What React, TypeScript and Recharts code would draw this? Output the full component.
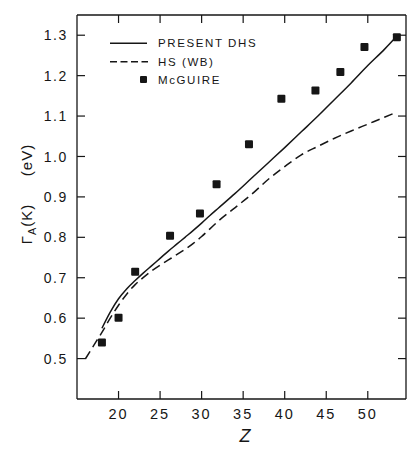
import React from "react";
import {
  ComposedChart,
  Line,
  Scatter,
  XAxis,
  YAxis,
  Legend,
} from "recharts";

// Z values and widths
const dhsZ = [18, 19, 20, 21, 22, 23, 24, 25, 26, 27, 28, 29, 30, 31, 32, 34, 36, 38, 40, 42, 44, 46, 48, 50, 52, 53.5];
const dhsWidth = [0.575, 0.615, 0.648, 0.673, 0.693, 0.712, 0.73, 0.748, 0.766, 0.783, 0.8, 0.817, 0.835, 0.854, 0.872, 0.908, 0.946, 0.984, 1.022, 1.061, 1.1, 1.141, 1.182, 1.225, 1.265, 1.298];

const hsZ = [16, 17, 18, 19, 20, 21, 22, 23, 24, 25, 26, 27, 28, 29, 30, 31, 32, 34, 36, 38, 40, 42, 44, 46, 48, 50, 52, 53.5];
const hsWidth = [0.499, 0.532, 0.565, 0.6, 0.632, 0.66, 0.683, 0.701, 0.717, 0.731, 0.744, 0.757, 0.77, 0.785, 0.802, 0.821, 0.84, 0.873, 0.906, 0.943, 0.975, 1.004, 1.025, 1.045, 1.063, 1.08, 1.097, 1.11];

const mcguireZ = [18, 20, 22, 26.2, 29.8, 31.8, 35.7, 39.6, 43.7, 46.7, 49.6, 53.5];
const mcguireWidth = [0.54, 0.601, 0.715, 0.804, 0.859, 0.931, 1.03, 1.143, 1.163, 1.209, 1.271, 1.295];

const zTicks = [20, 25, 30, 35, 40, 45, 50];
const widthTicks = [0.5, 0.6, 0.7, 0.8, 0.9, 1.0, 1.1, 1.2, 1.3];

const dhsData = dhsZ.map((z, i) => ({ z, v: dhsWidth[i] }));
const hsData = hsZ.map((z, i) => ({ z, v: hsWidth[i] }));
const mcguireData = mcguireZ.map((z, i) => ({ z, v: mcguireWidth[i] }));

const INK = "#161616";
const FONT = "'Liberation Sans', Arial, sans-serif";
const TICK_LEN = 8;

const LeftTick = ({ x, y, payload }: any) => (
  <g>
    <line x1={x} x2={x + TICK_LEN} y1={y} y2={y} stroke={INK} strokeWidth={1.2} />
    <text
      x={x - 9}
      y={y}
      dy="0.36em"
      textAnchor="end"
      fontFamily={FONT}
      fontSize={14}
      letterSpacing={1.6}
      fill={INK}
    >
      {Number(payload.value).toFixed(1)}
    </text>
  </g>
);

const RightTick = ({ x, y }: any) => (
  <line x1={x} x2={x - TICK_LEN} y1={y} y2={y} stroke={INK} strokeWidth={1.2} />
);

const BottomTick = ({ x, y, payload }: any) => (
  <g>
    <line x1={x} x2={x} y1={y} y2={y - TICK_LEN} stroke={INK} strokeWidth={1.2} />
    <text
      x={x}
      y={y + 15}
      dy="0.36em"
      textAnchor="middle"
      fontFamily={FONT}
      fontSize={14.5}
      letterSpacing={2}
      fill={INK}
    >
      {payload.value}
    </text>
  </g>
);

const TopTick = ({ x, y }: any) => (
  <line x1={x} x2={x} y1={y} y2={y + TICK_LEN} stroke={INK} strokeWidth={1.2} />
);

const Square = ({ cx, cy }: any) => (
  <rect x={cx - 4} y={cy - 4} width={8} height={8} rx={1} fill={INK} />
);

const YLabel = () => (
  <g fontFamily={FONT} fill={INK} fontSize={15}>
    <text x={27} y={224} textAnchor="middle" dy="0.36em" transform="rotate(-90, 27, 224)" letterSpacing={1}>
      <tspan>Γ</tspan>
      <tspan fontSize={11} dy={4}>A</tspan>
      <tspan dy={-4}>(K)</tspan>
    </text>
    <text x={27} y={160} textAnchor="middle" dy="0.36em" transform="rotate(-90, 27, 160)" letterSpacing={1}>
      (eV)
    </text>
  </g>
);

const XLabel = () => (
  <text
    x={245}
    y={436}
    dy="0.36em"
    textAnchor="middle"
    fontFamily={FONT}
    fontStyle="italic"
    fontSize={18}
    fill={INK}
  >
    Z
  </text>
);

const LegendBox = () => (
  <svg width={190} height={60} style={{ display: "block" }}>
    <g fontFamily={FONT} fontSize={11.5} letterSpacing={1.6} fill={INK}>
      <line x1={5} x2={42} y1={10.3} y2={10.3} stroke={INK} strokeWidth={1.4} />
      <text x={53} y={10.3} dy="0.36em">PRESENT DHS</text>
      <line x1={5} x2={43} y1={28.7} y2={28.7} stroke={INK} strokeWidth={1.4} strokeDasharray="7 3.5" />
      <text x={53} y={28.7} dy="0.36em">HS (WB)</text>
      <rect x={35} y={43} width={7} height={7} rx={1} fill={INK} />
      <text x={53} y={46.5} dy="0.36em">McGUIRE</text>
    </g>
  </svg>
);

export default function App() {
  return (
    <div style={{ position: "fixed", left: 0, top: 0, width: 407, height: 449, background: "#fff" }}>
      <ComposedChart width={407} height={449} margin={{ top: 14, right: 0, left: 17, bottom: 20 }}>
        <XAxis
          xAxisId="bottom"
          dataKey="z"
          type="number"
          domain={[15, 54.6]}
          ticks={zTicks}
          allowDataOverflow
          height={30}
          tickSize={0}
          tickMargin={0}
          tickLine={false}
          tick={<BottomTick />}
          axisLine={{ stroke: INK, strokeWidth: 1.3 }}
          label={{ content: () => <XLabel /> }}
        />
        <XAxis
          xAxisId="top"
          orientation="top"
          dataKey="z"
          type="number"
          domain={[15, 54.6]}
          ticks={zTicks}
          allowDataOverflow
          height={1}
          tickSize={0}
          tickMargin={0}
          tickLine={false}
          tick={<TopTick />}
          axisLine={{ stroke: INK, strokeWidth: 1.3 }}
        />
        <YAxis
          yAxisId="left"
          dataKey="v"
          type="number"
          domain={[0.4, 1.35]}
          ticks={widthTicks}
          allowDataOverflow
          width={60}
          tickSize={0}
          tickMargin={0}
          tickLine={false}
          tick={<LeftTick />}
          axisLine={{ stroke: INK, strokeWidth: 1.3 }}
          label={{ content: () => <YLabel /> }}
        />
        <YAxis
          yAxisId="right"
          orientation="right"
          type="number"
          domain={[0.4, 1.35]}
          ticks={widthTicks}
          allowDataOverflow
          width={1}
          tickSize={0}
          tickMargin={0}
          tickLine={false}
          tick={<RightTick />}
          axisLine={{ stroke: INK, strokeWidth: 1.3 }}
        />
        <Legend
          layout="horizontal"
          verticalAlign="middle"
          align="center"
          content={() => <LegendBox />}
          wrapperStyle={{ left: 105, top: 33, width: 190, height: 60 }}
        />
        <Line
          xAxisId="bottom"
          yAxisId="left"
          data={dhsData}
          dataKey="v"
          type="monotone"
          stroke={INK}
          strokeWidth={1.5}
          dot={false}
          activeDot={false}
          isAnimationActive={false}
        />
        <Line
          xAxisId="bottom"
          yAxisId="left"
          data={hsData}
          dataKey="v"
          type="monotone"
          stroke={INK}
          strokeWidth={1.5}
          strokeDasharray="9 5"
          dot={false}
          activeDot={false}
          isAnimationActive={false}
        />
        <Scatter
          xAxisId="bottom"
          yAxisId="left"
          data={mcguireData}
          dataKey="v"
          shape={<Square />}
          isAnimationActive={false}
        />
      </ComposedChart>
    </div>
  );
}
